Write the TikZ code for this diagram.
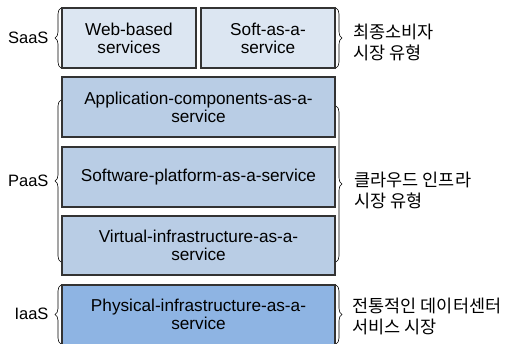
\documentclass[tikz,border=0pt]{standalone}
\usepackage{fontspec}
\setmainfont{Liberation Sans}
\newfontfamily\kr{Noto Sans CJK KR}
\usetikzlibrary{decorations.pathreplacing}
\definecolor{cTop}{HTML}{DCE6F2}
\definecolor{cMid}{HTML}{B9CDE5}
\definecolor{cBot}{HTML}{8EB4E3}
\definecolor{cLine}{HTML}{333333}
\begin{document}
\begin{tikzpicture}[x=1pt,y=1pt,
  layer/.style={draw=cLine,line width=1.2pt},
  lbl/.style={align=center,font=\fontsize{17.2}{18}\selectfont},
  brc/.style={draw=black,line width=0.6pt,decorate,decoration={brace,amplitude=6pt}},
  side/.style={font=\fontsize{16.5}{18}\selectfont},
  kor/.style={font=\kr\fontsize{17.5}{21}\selectfont,align=left,anchor=west}]
\useasboundingbox (0,0) rectangle (514,343);
\begin{scope}
\clip (0,0) rectangle (514,343);
% boxes (image y flipped: y = 343 - yimg)
\path[layer,fill=cTop] (62,335) rectangle (196,275);
\node[lbl] (web) at (129,305) {Web-based\\services};
\path[layer,fill=cTop] (201,335) rectangle (335,275);
\node[lbl] (soft) at (268,305) {Soft-as-a-\\service};
\path[layer,fill=cMid] (62,266) rectangle (335,206);
\node[lbl] (app) at (198.5,236) {Application-components-as-a-\\service};
\path[layer,fill=cMid] (62,196) rectangle (335,136);
\node[lbl] (plat) at (198.5,166) {Software-platform-as-a-service};
\path[layer,fill=cMid] (62,127) rectangle (335,68);
\node[lbl] (virt) at (198.5,97.5) {Virtual-infrastructure-as-a-\\service};
\path[layer,fill=cBot] (62,58) rectangle (335,-5);
\node[lbl] (phys) at (198.5,28.5) {Physical-infrastructure-as-a-\\service};
% braces
\coordinate (sl1) at (61,275); \coordinate (sl2) at (61,335);
\coordinate (pl1) at (61,81); \coordinate (pl2) at (61,243);
\coordinate (il1) at (61,-1); \coordinate (il2) at (61,58);
\coordinate (sr1) at (336,335); \coordinate (sr2) at (336,275);
\coordinate (pr1) at (336,237); \coordinate (pr2) at (336,81);
\coordinate (ir1) at (336,58); \coordinate (ir2) at (336,-1);
\draw[brc] (sl1) -- (sl2);
\draw[brc] (pl1) -- (pl2);
\draw[brc] (il1) -- (il2);
\draw[brc] (sr1) -- (sr2);
\draw[brc] (pr1) -- (pr2);
\draw[brc] (ir1) -- (ir2);
\end{scope}
% side labels
\node[side,anchor=east] (saas) at (52,305) {SaaS};
\node[side,anchor=east] (paas) at (52,162) {PaaS};
\node[side,anchor=east] (iaas) at (52,29) {IaaS};
\node[kor] (k1) at (350,301) {최종소비자\\시장 유형};
\node[kor] (k2) at (351,153) {클라우드 인프라\\시장 유형};
\node[kor] (k3) at (349,27) {전통적인 데이터센터\\서비스 시장};
\end{tikzpicture}
\end{document}
